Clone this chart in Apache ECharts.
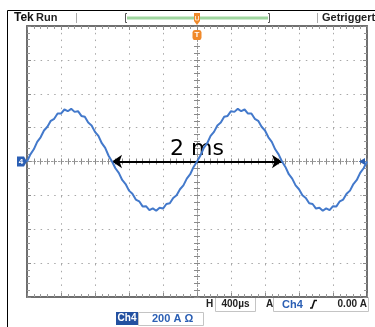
<!DOCTYPE html>
<html>
<head>
<meta charset="utf-8">
<script src="https://cdn.jsdelivr.net/npm/echarts@6/dist/echarts.min.js"></script>
<style>
html, body { margin: 0; padding: 0; background: #fff; }
#scope { width: 375px; height: 327px; }
</style>
</head>
<body>
<div id="scope"></div>
<script>
// time axis in µs (400 µs/div, 10 div), current in A (200 A/div, 8 div)
var timeMin = -2000, timeMax = 2000, timeDiv = 400;
var ampMin = -800, ampMax = 800, ampDiv = 200;
var sampleStart = -2000, sampleStep = 40;

// Ch4 current, every 40 µs
var ch4Current = [
	0, 42, 72, 116, 143, 183, 205, 240, 252, 283, 283, 307, 297, 311, 293, 297, 269, 264, 230, 213, 175, 151, 108, 80, 34, 0,
	-40, -67, -109, -133, -172, -191, -225, -235, -265, -264, -287, -277, -291, -273, -278, -251, -247, -215, -199, -164, -141, -101, -75, -32, 0,
	35, 80, 108, 151, 175, 213, 230, 264, 269, 297, 293, 311, 297, 307, 283, 283, 252, 240, 205, 183, 143, 116, 72, 42, 0,
	-32, -75, -101, -141, -164, -199, -215, -247, -251, -278, -273, -291, -277, -287, -264, -265, -235, -225, -191, -172, -133, -109, -67, -40, 0
];

// period marker (one full period between two crossings)
var periodStart = -1000, periodEnd = 1000;
var periodLabel = '2 ms';
var triggerTime = 0;

var BLUE = '#2b5fb4';
var ORANGE = '#f0892a';
var FRAME = '#6f6f6f';

var traceData = [];
for (var i = 0; i < ch4Current.length; i++) {
	traceData.push([sampleStart + i * sampleStep, ch4Current[i]]);
}

var chart = echarts.init(document.getElementById('scope'), null, { renderer: 'canvas' });

function borderAxis(pos, split) {
	var vert = pos === 'left' || pos === 'right';
	return {
		type: 'value', min: vert ? ampMin : timeMin, max: vert ? ampMax : timeMax,
		interval: vert ? ampDiv : timeDiv,
		position: pos,
		axisLine: { show: true, onZero: false, lineStyle: { color: FRAME, width: 2 } },
		axisTick: { show: true, inside: true, length: 4, lineStyle: { color: '#8a8a8a' } },
		minorTick: { show: true, splitNumber: 5, length: 3, lineStyle: { color: '#9a9a9a' } },
		axisLabel: { show: false },
		splitLine: { show: split, lineStyle: { color: '#a8a8a8', width: 1, type: [1.5, 5.3] } }
	};
}

function centerAxis(pos, inside) {
	var vert = pos === 'left';
	return {
		type: 'value', min: vert ? ampMin : timeMin, max: vert ? ampMax : timeMax,
		interval: vert ? ampDiv : timeDiv,
		position: pos,
		axisLine: { show: true, onZero: true, onZeroAxisIndex: 0, lineStyle: { color: '#9a9a9a', width: 1, type: [1.5, 2] } },
		axisTick: { show: true, inside: inside, length: 3, lineStyle: { color: '#8a8a8a' } },
		minorTick: { show: true, splitNumber: 5, length: 3, lineStyle: { color: '#8a8a8a' } },
		axisLabel: { show: false },
		splitLine: { show: false }
	};
}

var option = {
	animation: false,
	backgroundColor: '#fff',
	grid: { left: 27, right: 8, top: 26, bottom: 30 },
	xAxis: [
		borderAxis('bottom', true),
		borderAxis('top', false),
		centerAxis('bottom', true),
		centerAxis('bottom', false)
	],
	yAxis: [
		borderAxis('left', true),
		borderAxis('right', false),
		centerAxis('left', true),
		centerAxis('left', false)
	],
	series: [
		{
			name: 'Ch4',
			type: 'line',
			data: traceData,
			showSymbol: false,
			clip: false,
			z: 5,
			lineStyle: { color: '#4379cb', width: 2 },
			markLine: {
				silent: true,
				symbol: ['arrow', 'arrow'],
				symbolSize: 10,
				lineStyle: { color: '#000', width: 2, type: 'solid' },
				label: {
					show: true, position: 'middle', formatter: periodLabel, distance: 1,
					color: '#000', fontSize: 22, fontFamily: 'DejaVu Sans'
				},
				data: [[{ coord: [periodStart, 0] }, { coord: [periodEnd, 0] }]]
			},
			markPoint: {
				silent: true,
				data: [
					{
						coord: [timeMin, 0], symbol: 'path://M0,0 L7,0 L10,5 L7,10 L0,10 Z',
						symbolSize: [10, 10], symbolOffset: [-5, 0],
						itemStyle: { color: BLUE },
						label: { show: true, formatter: '4', color: '#fff', fontSize: 8, fontWeight: 'bold', offset: [-1, 0] }
					},
					{
						coord: [timeMax, 0], symbol: 'triangle', symbolRotate: 90,
						symbolSize: [7, 6], symbolOffset: [-5, 0],
						itemStyle: { color: BLUE },
						label: { show: false }
					},
					{
						coord: [triggerTime, ampMax], symbol: 'roundRect',
						symbolSize: [9, 10], symbolOffset: [0, 9],
						itemStyle: { color: ORANGE },
						label: { show: true, formatter: 'T', color: '#fff', fontSize: 8, fontWeight: 'bold' }
					}
				]
			}
		}
	]
};
chart.setOption(option);

var trigX = chart.convertToPixel({ xAxisIndex: 0 }, triggerTime);
var f = '"Liberation Sans", Arial, sans-serif';

function txt(x, y, s, font, fill, align) {
	return { type: 'text', silent: true, style: { x: x, y: y, text: s, font: font, fill: fill || '#111', textAlign: align || 'left', textVerticalAlign: 'middle' } };
}
function box(x, y, w, h, fill, stroke) {
	return { type: 'rect', silent: true, shape: { x: x, y: y, width: w, height: h }, style: { fill: fill, stroke: stroke || null, lineWidth: 1 } };
}
function seg(pts, color, w) {
	return { type: 'polyline', silent: true, shape: { points: pts }, style: { stroke: color, lineWidth: w || 1, fill: null } };
}

chart.setOption({
	graphic: [
		// outer frame of the screen grab
		seg([[7.5, 327], [7.5, 10.5], [375, 10.5]], '#000', 1),
		// status line
		txt(14, 18, 'Tek', 'bold 12px ' + f, '#111'),
		txt(36, 18, 'Run', 'bold 11px ' + f, '#222'),
		seg([[76.5, 13], [76.5, 23]], '#aaa', 1),
		seg([[127, 13.5], [125.5, 13.5], [125.5, 22.5], [127, 22.5]], '#555', 1),
		seg([[268, 13.5], [269.5, 13.5], [269.5, 22.5], [268, 22.5]], '#555', 1),
		seg([[127, 18], [268, 18]], '#9fd59f', 3),
		{
			type: 'polygon', silent: true,
			shape: { points: [[trigX - 3, 13], [trigX + 3, 13], [trigX + 3, 21], [trigX, 25], [trigX - 3, 21]] },
			style: { fill: ORANGE }
		},
		seg([[trigX - 1.5, 16], [trigX - 1.5, 20], [trigX + 1.5, 20], [trigX + 1.5, 16]], '#ffe2c4', 1),
		seg([[317.5, 13], [317.5, 23]], '#aaa', 1),
		txt(322, 18, 'Getriggert', 'bold 11px ' + f, '#222'),
		// readout line 1
		txt(206, 304, 'H', 'bold 10px ' + f, '#222'),
		box(215.5, 297.5, 40, 14, '#fff', '#c4c4c4'),
		txt(235.5, 304.5, '400µs', 'bold 10px ' + f, '#222', 'center'),
		txt(266, 304, 'A', 'bold 10px ' + f, '#222'),
		box(273.5, 297.5, 95, 14, '#fff', '#c4c4c4'),
		txt(282, 304.5, 'Ch4', 'bold 11px ' + f, BLUE),
		seg([[310, 308], [312, 308], [314.5, 300.5], [317, 300.5]], '#111', 1.6),
		txt(367, 304.5, '0.00 A', 'bold 10px ' + f, '#222', 'right'),
		// readout line 2
		box(116, 312, 22, 13, '#2350a0'),
		txt(127, 318.5, 'Ch4', 'bold 10px ' + f, '#fff', 'center'),
		box(138.5, 312.5, 65, 13, '#fff', '#c4c4c4'),
		txt(152, 319, '200 A Ω', 'bold 11px ' + f, BLUE)
	]
});
</script>
</body>
</html>
